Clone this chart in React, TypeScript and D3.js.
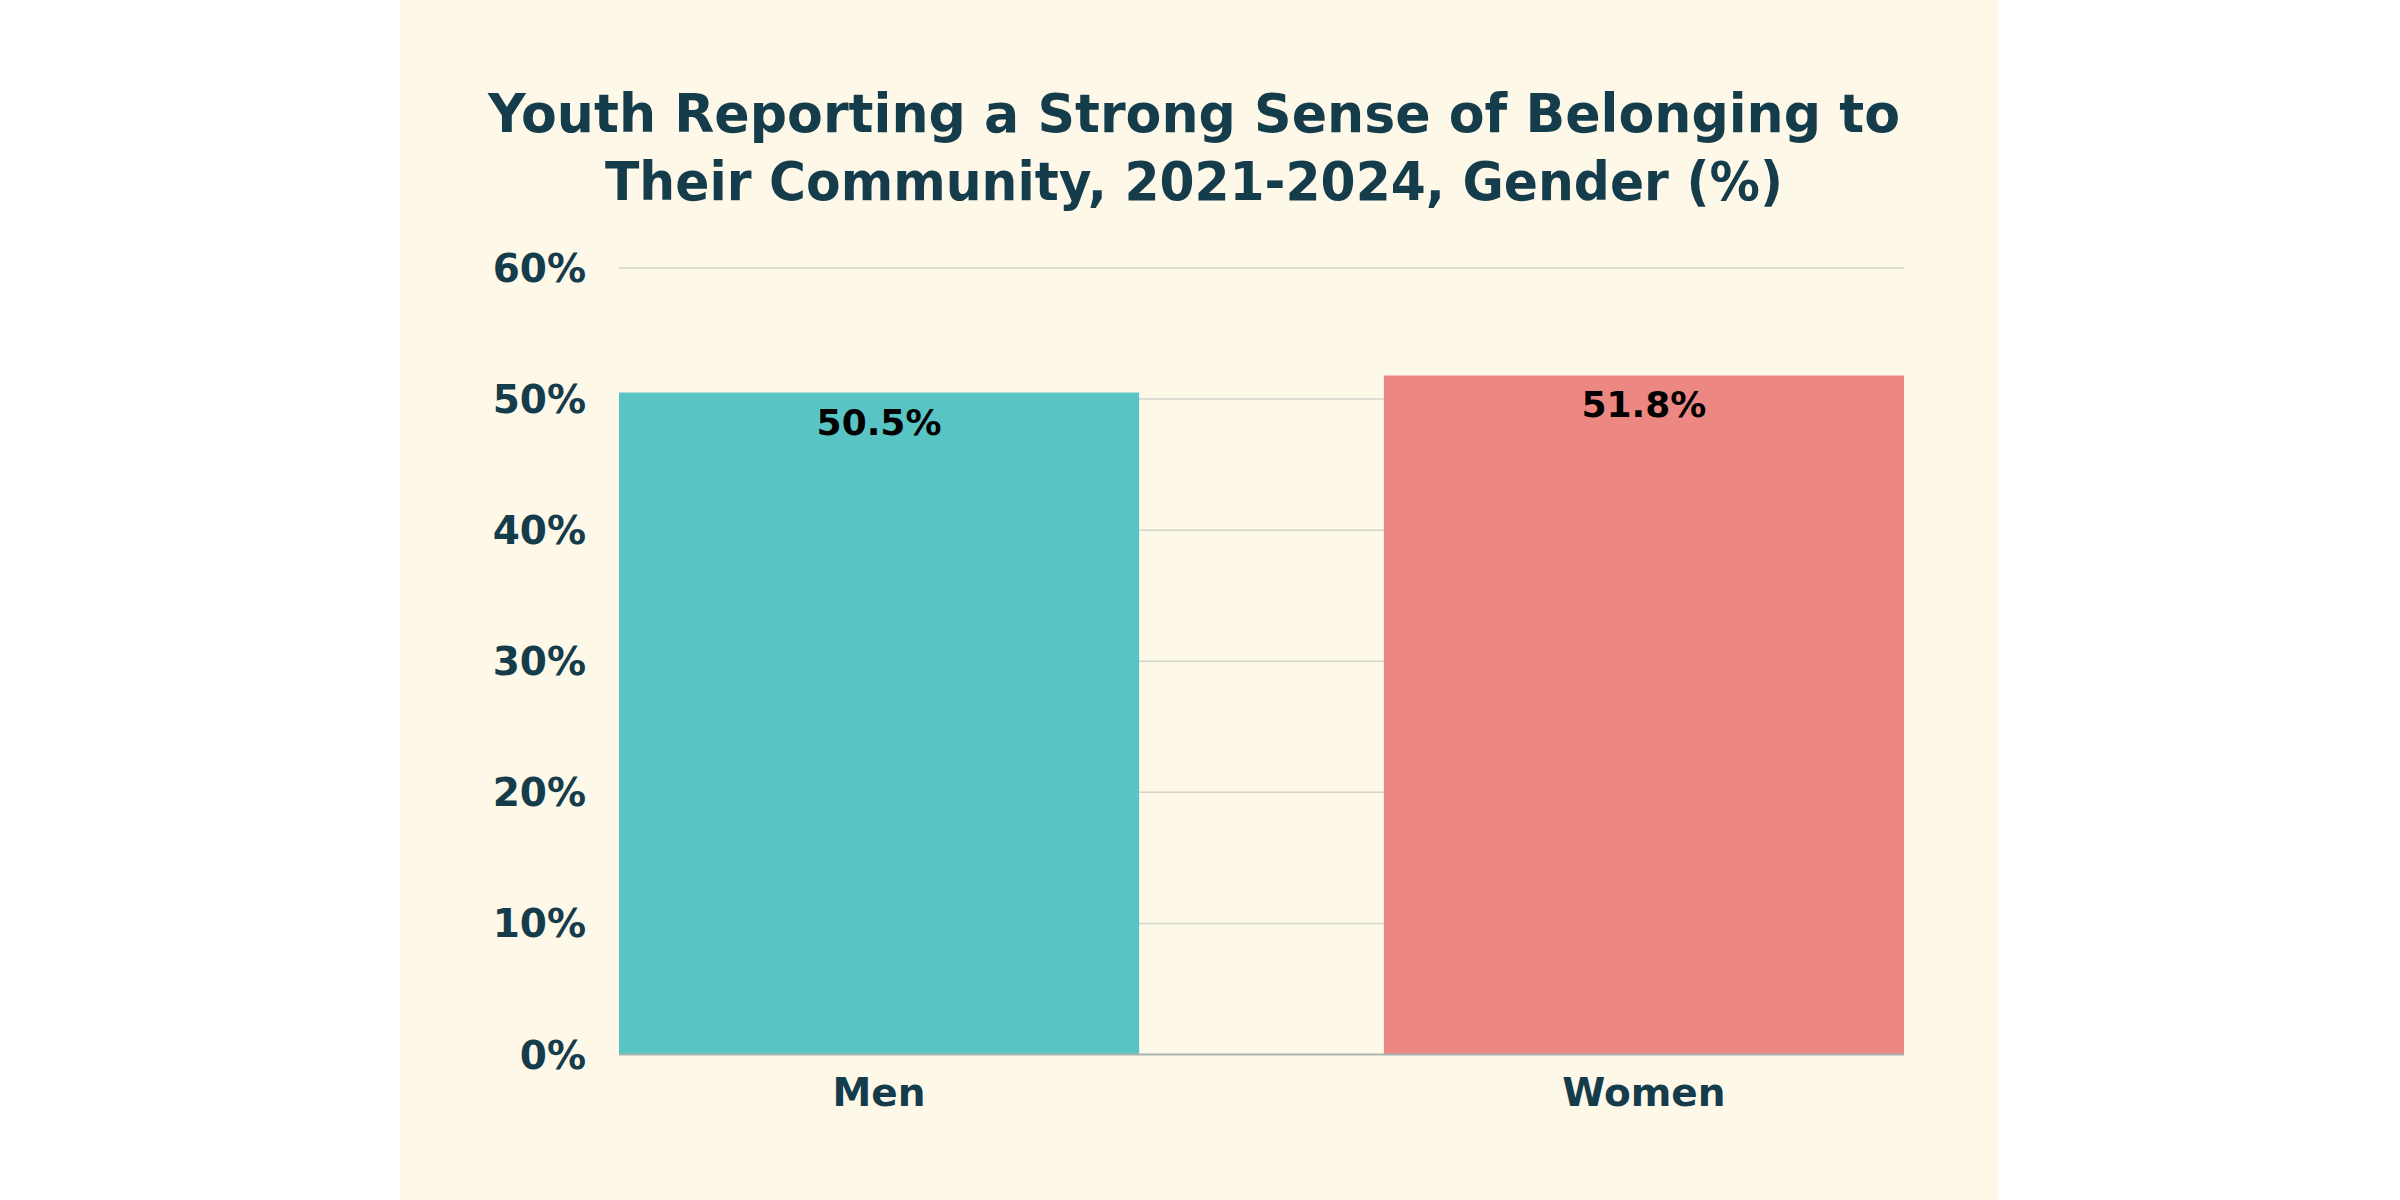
import * as d3 from 'd3';

const categories = ['Men', 'Women'];
const values = [50.5, 51.8];
const barColors = ['#59c4c4', '#ed8782'];
const yTicks = [0, 10, 20, 30, 40, 50, 60];
const titleLines = [
  'Youth Reporting a Strong Sense of Belonging to',
  'Their Community, 2021-2024, Gender (%)',
];
const titleWidths = [1412, 1178];

const W = 2400;
const H = 1200;
const PANEL_X0 = 400;
const PANEL_X1 = 1998;
const PLOT_L = 619;
const PLOT_R = 1904;
const PLOT_TOP = 268;
const PLOT_BOTTOM = 1054.5;

const INK = '#143c4b';
const FONT = '"DejaVu Sans", "Noto Sans", sans-serif';

export default function App() {
  const x = d3.scaleBand<string>()
    .domain(categories)
    .range([PLOT_L, PLOT_R])
    .paddingInner(0.32)
    .paddingOuter(0);

  const y = d3.scaleLinear()
    .domain([0, 60])
    .range([PLOT_BOTTOM, PLOT_TOP]);

  return (
    <>
      <style>{`body{margin:0}`}</style>
      <svg width={W} height={H} style={{ display: 'block', fontFamily: FONT }}>
        <rect x={0} y={0} width={W} height={H} fill="#ffffff" />
        <rect x={PANEL_X0} y={0} width={PANEL_X1 - PANEL_X0} height={H} fill="#fef8e9" />

        {/* title */}
        {titleLines.map((line, i) => (
          <text key={i} x={(PANEL_X0 + PANEL_X1) / 2 - 5} y={132 + i * 68}
            textAnchor="middle" fontSize={54} fontWeight={700} fill={INK}
            textLength={titleWidths[i]} lengthAdjust="spacingAndGlyphs">
            {line}
          </text>
        ))}

        {/* grid */}
        {yTicks.filter(t => t > 0).map(t => (
          <line key={t} x1={PLOT_L} x2={PLOT_R} y1={y(t)} y2={y(t)}
            stroke="#d3d4cc" strokeWidth={1.5} />
        ))}

        {/* y tick labels */}
        {yTicks.map(t => (
          <text key={t} x={586} y={y(t)} dy="0.36em" textAnchor="end"
            fontSize={39} fontWeight={700} fill={INK}>
            {`${t}%`}
          </text>
        ))}

        {/* bars */}
        {categories.map((c, i) => (
          <rect key={c} x={x(c)} y={y(values[i])} width={x.bandwidth()}
            height={PLOT_BOTTOM - y(values[i])} fill={barColors[i]} />
        ))}

        {/* baseline */}
        <line x1={PLOT_L} x2={PLOT_R} y1={PLOT_BOTTOM} y2={PLOT_BOTTOM}
          stroke="#a9b3af" strokeWidth={2} />

        {/* value labels */}
        {categories.map((c, i) => (
          <text key={c} x={(x(c) ?? 0) + x.bandwidth() / 2} y={y(values[i]) + 42}
            textAnchor="middle" fontSize={36} fontWeight={700} fill="#000000">
            {`${values[i].toFixed(1)}%`}
          </text>
        ))}

        {/* x labels */}
        {categories.map(c => (
          <text key={c} x={(x(c) ?? 0) + x.bandwidth() / 2} y={1106}
            textAnchor="middle" fontSize={39} fontWeight={700} fill={INK}>
            {c}
          </text>
        ))}
      </svg>
    </>
  );
}
